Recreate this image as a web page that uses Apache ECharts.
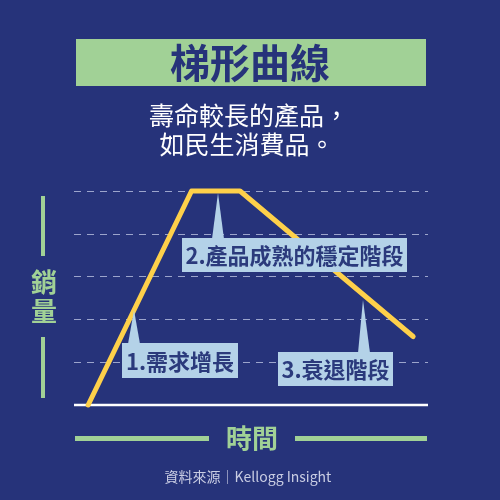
<!DOCTYPE html>
<html>
<head>
<meta charset="utf-8">
<script src="https://cdn.jsdelivr.net/npm/echarts@6/dist/echarts.min.js"></script>
<style>
  html, body { margin: 0; padding: 0; background: #26337a; }
  #chart { width: 500px; height: 500px; }
</style>
</head>
<body>
<div id="chart"></div>
<script>
  'use strict'

  /* data */
  var timeValues = [4, 33.2, 46.9, 95.8];
  var salesValues = [0, 5, 5, 1.6];
  var stageLabels = ['1.需求增長', '2.產品成熟的穩定階段', '3.衰退階段'];
  var titleText = '梯形曲線';
  var subtitleLines = ['壽命較長的產品，', '如民生消費品。'];
  var yName = ['銷', '量'];
  var xName = '時間';
  var sourceText = '資料來源｜Kellogg Insight';

  var navy = '#26337a';
  var green = '#a1d196';
  var yellow = '#fed04a';
  var boxBlue = '#b4d2e8';
  var font = '"Noto Sans CJK TC", "Noto Sans", sans-serif';

  var linePoints = timeValues.map(function (t, i) { return [t, salesValues[i]]; });

  function callout(label, box, tip) {
    return [
      {
        type: 'polygon',
        z: 100,
        shape: { points: tip },
        style: { fill: boxBlue }
      },
      {
        type: 'rect',
        z: 100,
        shape: { x: box[0], y: box[1], width: box[2], height: box[3] },
        style: { fill: boxBlue }
      },
      {
        type: 'text',
        z: 101,
        style: {
          text: label,
          x: box[0] + box[2] / 2,
          y: box[1] + box[3] / 2 + 1,
          textAlign: 'center',
          textVerticalAlign: 'middle',
          fill: '#2b3a7c',
          fontSize: 22,
          fontWeight: 'bold',
          fontFamily: font
        }
      }
    ];
  }

  var graphics = [
    /* title */
    { type: 'rect', shape: { x: 76, y: 39, width: 350, height: 47 }, style: { fill: green } },
    { type: 'text', style: { text: titleText, x: 250, y: 63, textAlign: 'center', textVerticalAlign: 'middle',
        fill: navy, fontSize: 40, fontWeight: 'bold', fontFamily: font } },
    { type: 'text', style: { text: subtitleLines[0], x: 249, y: 115, textAlign: 'center', textVerticalAlign: 'middle',
        fill: '#ffffff', fontSize: 25, fontFamily: font } },
    { type: 'text', style: { text: subtitleLines[1], x: 247, y: 144, textAlign: 'center', textVerticalAlign: 'middle',
        fill: '#ffffff', fontSize: 25, fontFamily: font } },

    /* y name */
    { type: 'rect', shape: { x: 41, y: 196, width: 4, height: 60 }, style: { fill: green } },
    { type: 'rect', shape: { x: 41, y: 337, width: 4, height: 61 }, style: { fill: green } },
    { type: 'text', style: { text: yName[0], x: 44, y: 282, textAlign: 'center', textVerticalAlign: 'middle',
        fill: green, fontSize: 26, fontWeight: 'bold', fontFamily: font } },
    { type: 'text', style: { text: yName[1], x: 44, y: 311, textAlign: 'center', textVerticalAlign: 'middle',
        fill: green, fontSize: 26, fontWeight: 'bold', fontFamily: font } },

    /* x name */
    { type: 'rect', shape: { x: 75, y: 436, width: 134, height: 5 }, style: { fill: green } },
    { type: 'rect', shape: { x: 295, y: 436, width: 132, height: 5 }, style: { fill: green } },
    { type: 'text', style: { text: xName, x: 252, y: 438, textAlign: 'center', textVerticalAlign: 'middle',
        fill: green, fontSize: 26, fontWeight: 'bold', fontFamily: font } },

    /* source */
    { type: 'text', style: { text: sourceText, x: 248, y: 477, textAlign: 'center', textVerticalAlign: 'middle',
        fill: '#c9cde3', fontSize: 14, fontFamily: font } }
  ]
    .concat(callout(stageLabels[0], [122, 343, 116, 35], [[128, 344], [134, 310], [140, 344]]))
    .concat(callout(stageLabels[1], [182, 238, 225, 34], [[212, 239], [218, 193], [224, 239]]))
    .concat(callout(stageLabels[2], [278, 352, 115, 34], [[358, 353], [363, 300], [370, 353]]));

  var chart = echarts.init(document.getElementById('chart'));
  var option = {
    backgroundColor: navy,
    animation: false,
    grid: { left: 74, right: 72, top: 191, bottom: 95 },
    xAxis: {
      type: 'value',
      min: 0,
      max: 100,
      axisLine: { show: false },
      axisTick: { show: false },
      axisLabel: { show: false },
      splitLine: { show: false }
    },
    yAxis: {
      type: 'value',
      min: 0,
      max: 5,
      interval: 1,
      axisLine: { show: false },
      axisTick: { show: false },
      axisLabel: { show: false },
      splitLine: {
        lineStyle: { color: '#9ca5cc', type: [7, 6], width: 1 }
      }
    },
    series: [
      {
        type: 'line',
        data: linePoints,
        showSymbol: false,
        clip: false,
        lineStyle: { color: yellow, width: 5, cap: 'round', join: 'round' },
        z: 3
      },
      {
        type: 'line',
        data: [[0, 0], [100, 0]],
        showSymbol: false,
        clip: false,
        silent: true,
        lineStyle: { color: '#ffffff', width: 2.5 },
        z: 2
      }
    ],
    graphic: graphics
  };
  chart.setOption(option);
</script>
</body>
</html>
